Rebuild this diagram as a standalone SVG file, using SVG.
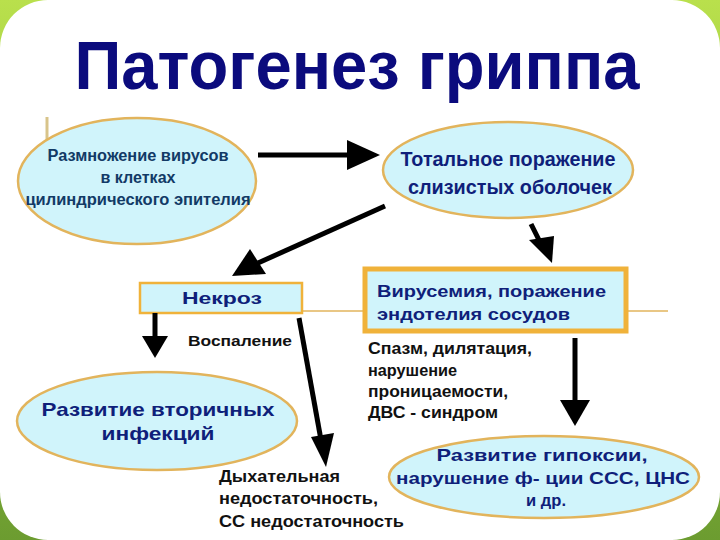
<svg xmlns="http://www.w3.org/2000/svg" width="720" height="540" viewBox="0 0 720 540">
<defs>
<linearGradient id="bg" x1="0" y1="0" x2="0" y2="1">
<stop offset="0" stop-color="#b9e04c"/>
<stop offset="1" stop-color="#6c9c30"/>
</linearGradient>
<style>
.ell{fill:#d0f4fb;stroke:#e2b45c;stroke-width:2.5}
.box{fill:#d0f4fb;stroke:#f0b23a}
.nt{font-family:"Liberation Sans",Arial,sans-serif;font-weight:bold;fill:#0f1f7a}
.lb{font-family:"Liberation Sans",Arial,sans-serif;font-weight:bold;fill:#111}
.ar{stroke:#000;stroke-width:5;fill:none}
.hd{fill:#000}
</style>
</defs>
<rect width="720" height="540" fill="url(#bg)"/>
<rect x="0" y="0" width="720" height="540" rx="48" ry="48" fill="#fff"/>
<text x="357" y="89" text-anchor="middle" font-family="'Liberation Sans',Arial,sans-serif" font-weight="bold" font-size="68" fill="#0b0b7d" textLength="565" lengthAdjust="spacingAndGlyphs">Патогенез гриппа</text>
<line x1="47" y1="117" x2="47" y2="140" stroke="#d8c48a" stroke-width="3"/>
<line x1="302" y1="311" x2="668" y2="311" stroke="#e2b45c" stroke-width="1.5"/>

<g id="node-razmnozhenie">
<ellipse class="ell" cx="137" cy="181" rx="119" ry="63"/>
<text class="nt" font-size="16" style="fill:#123a66" x="138" y="161" text-anchor="middle" textLength="181" lengthAdjust="spacingAndGlyphs">Размножение вирусов</text>
<text class="nt" font-size="16" style="fill:#123a66" x="138" y="183" text-anchor="middle" textLength="75" lengthAdjust="spacingAndGlyphs">в клетках</text>
<text class="nt" font-size="16" style="fill:#123a66" x="138" y="205" text-anchor="middle" textLength="225" lengthAdjust="spacingAndGlyphs">цилиндрического эпителия</text>
</g>

<g id="node-totalnoe">
<ellipse class="ell" cx="508" cy="170" rx="125" ry="48"/>
<text class="nt" font-size="21" x="508" y="166" text-anchor="middle" textLength="215" lengthAdjust="spacingAndGlyphs">Тотальное поражение</text>
<text class="nt" font-size="21" x="510" y="194" text-anchor="middle" textLength="204" lengthAdjust="spacingAndGlyphs">слизистых оболочек</text>
</g>

<g id="node-nekroz">
<rect class="box" x="140" y="283" width="162" height="30" stroke-width="2.5"/>
<text class="nt" font-size="17" x="222" y="304" text-anchor="middle" textLength="80" lengthAdjust="spacingAndGlyphs">Некроз</text>
</g>

<g id="node-viremia">
<rect class="box" x="365" y="269" width="261" height="62" stroke-width="5"/>
<text class="nt" font-size="17" x="377" y="297" textLength="229" lengthAdjust="spacingAndGlyphs">Вирусемия, поражение</text>
<text class="nt" font-size="17" x="377" y="320" textLength="193" lengthAdjust="spacingAndGlyphs">эндотелия сосудов</text>
</g>

<g id="node-vtorichnye">
<ellipse class="ell" cx="157" cy="421" rx="140" ry="49"/>
<text class="nt" font-size="19" x="158" y="416" text-anchor="middle" textLength="233" lengthAdjust="spacingAndGlyphs">Развитие вторичных</text>
<text class="nt" font-size="19" x="158" y="440" text-anchor="middle" textLength="113" lengthAdjust="spacingAndGlyphs">инфекций</text>
</g>

<g id="node-gipoksia">
<ellipse class="ell" cx="544" cy="477" rx="155" ry="41"/>
<text class="nt" font-size="17" x="542" y="461" text-anchor="middle" textLength="211" lengthAdjust="spacingAndGlyphs">Развитие гипоксии,</text>
<text class="nt" font-size="17" x="543" y="484" text-anchor="middle" textLength="294" lengthAdjust="spacingAndGlyphs">нарушение ф- ции ССС, ЦНС</text>
<text class="nt" font-size="17" x="546" y="506" text-anchor="middle" textLength="40" lengthAdjust="spacingAndGlyphs">и др.</text>
</g>

<g id="labels">
<text class="lb" font-size="15" x="188" y="346" textLength="104" lengthAdjust="spacingAndGlyphs">Воспаление</text>
<text class="lb" font-size="16" x="368" y="354" textLength="164" lengthAdjust="spacingAndGlyphs">Спазм, дилятация,</text>
<text class="lb" font-size="16" x="368" y="376" textLength="89" lengthAdjust="spacingAndGlyphs">нарушение</text>
<text class="lb" font-size="16" x="368" y="397" textLength="140" lengthAdjust="spacingAndGlyphs">проницаемости,</text>
<text class="lb" font-size="16" x="368" y="418" textLength="130" lengthAdjust="spacingAndGlyphs">ДВС - синдром</text>
<text class="lb" font-size="16" font-weight="normal" x="219" y="482" textLength="121" lengthAdjust="spacingAndGlyphs">Дыхательная</text>
<text class="lb" font-size="16" x="219" y="504" textLength="159" lengthAdjust="spacingAndGlyphs">недостаточность,</text>
<text class="lb" font-size="16" x="219" y="527" textLength="185" lengthAdjust="spacingAndGlyphs">СС недостаточность</text>
</g>

<g id="connectors">
<line class="ar" x1="258" y1="155" x2="350" y2="155"/>
<path class="hd" d="M380,155 L347,140 L347,170 Z"/>
<line class="ar" x1="385" y1="206" x2="258" y2="263"/>
<path class="hd" d="M232,276 L250,249 L266,274 Z"/>
<line class="ar" x1="531" y1="224" x2="540" y2="242"/>
<path class="hd" d="M552,263 L529,240 L554,236 Z"/>
<line class="ar" x1="155" y1="313" x2="155" y2="338"/>
<path class="hd" d="M155,358 L142,336 L168,336 Z"/>
<line class="ar" x1="299" y1="318" x2="321" y2="440"/>
<path class="hd" d="M326,467 L311,437 L334,433 Z"/>
<line class="ar" x1="575" y1="338" x2="575" y2="402"/>
<path class="hd" d="M575,426 L560,400 L590,400 Z"/>
</g>
</svg>
